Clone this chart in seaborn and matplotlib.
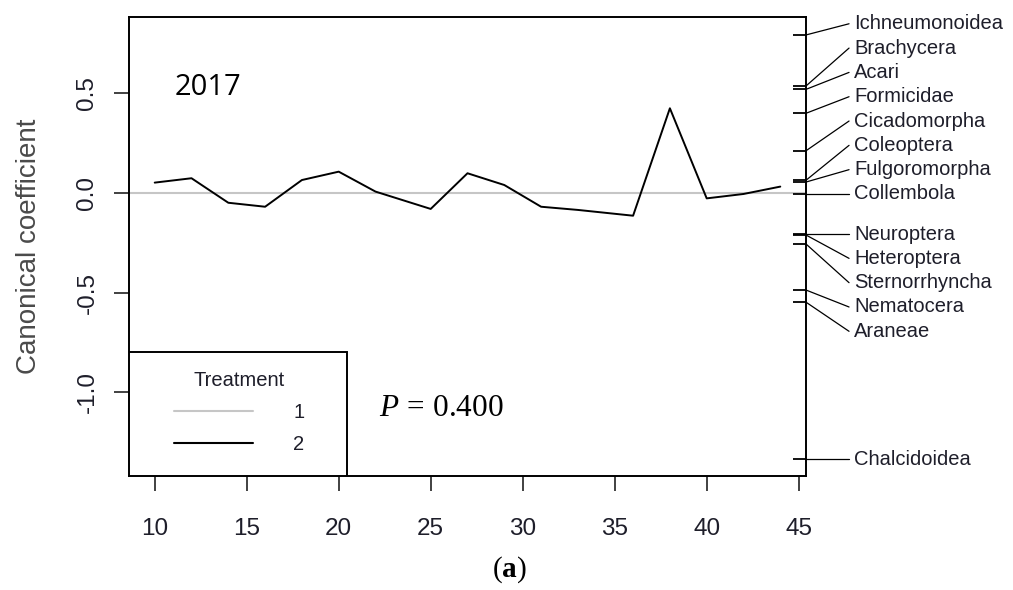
import numpy as np
import pandas as pd
import matplotlib
matplotlib.use('Agg')
import matplotlib.pyplot as plt
from matplotlib.patches import Rectangle
import seaborn as sns

# PRC: sampling week vs canonical coefficient of treatment 2 (treatment 1 = control, zero line)
weeks = [10, 12, 14, 16, 18, 20, 22, 25, 27, 29, 31, 33, 36, 38, 40, 42, 44]
coef = [0.052, 0.074, -0.049, -0.069, 0.065, 0.107, 0.007, -0.080, 0.099, 0.040,
        -0.069, -0.085, -0.114, 0.425, -0.027, -0.005, 0.032]

# species (taxon) weights shown on the right axis
taxa = ['Ichneumonoidea', 'Brachycera', 'Acari', 'Formicidae', 'Cicadomorpha',
        'Coleoptera', 'Fulgoromorpha', 'Collembola', 'Neuroptera', 'Heteroptera',
        'Sternorrhyncha', 'Nematocera', 'Araneae', 'Chalcidoidea']
taxa_scores = [0.793, 0.537, 0.520, 0.400, 0.212, 0.064, 0.055, -0.005,
               -0.206, -0.211, -0.256, -0.487, -0.548, -1.336]

treatments = ['1', '2']
x_ticks = [10, 15, 20, 25, 30, 35, 40, 45]
y_ticks = [-1.0, -0.5, 0.0, 0.5]
y_ticklabels = ['-1.0', '-0.5', '0.0', '0.5']


def linestack(vals, gap):
    # same idea as vegan::linestack - spread labels out from the middle one
    order = np.argsort(vals)
    x = np.asarray(vals, dtype=float)[order]
    n = len(x)
    pos = np.empty(n)
    mid = (n + 1) // 2 - 1
    pos[mid] = x[mid]
    for i in range(mid + 1, n):
        pos[i] = max(x[i], pos[i - 1] + gap)
    for i in range(mid - 1, -1, -1):
        pos[i] = min(x[i], pos[i + 1] - gap)
    out = np.empty(n)
    out[order] = pos
    return out


sns.set_style('ticks')
plt.rcParams['font.family'] = ['Liberation Sans', 'DejaVu Sans']
plt.rcParams['mathtext.fontset'] = 'custom'
plt.rcParams['mathtext.rm'] = 'Liberation Serif'
plt.rcParams['mathtext.it'] = 'Liberation Serif:italic'
plt.rcParams['mathtext.bf'] = 'Liberation Serif:bold'

txt_col = '#1e1e2a'

df = pd.DataFrame({'week': weeks, 'coef': coef})

fig = plt.figure(figsize=(10.13, 5.9), dpi=100)
ax = fig.add_axes([0.1273, 0.1932, 0.6684, 0.7780])

ax.axhline(0, color='#c6c6c6', lw=1.5, label=treatments[0], zorder=1)
sns.lineplot(data=df, x='week', y='coef', color='black', lw=1.4, ax=ax,
             label=treatments[1], zorder=2)

ax.set_xlim(8.6, 45.4)
ax.set_ylim(-1.42, 0.883)
ax.set_xticks(x_ticks)
ax.set_yticks(y_ticks)
ax.set_yticklabels(y_ticklabels)
ax.set_xlabel('')
ax.set_ylabel('Canonical coefficient', fontsize=20, color='#4a4a4a')
ax.yaxis.set_label_coords(-0.128, 0.5)

for s in ax.spines.values():
    s.set_visible(True)
    s.set_color('black')
    s.set_linewidth(1.4)
ax.tick_params(axis='both', direction='out', length=11, width=1.3, color='#333333',
               labelsize=17.5, labelcolor=txt_col)
ax.tick_params(axis='x', pad=19)
ax.tick_params(axis='y', pad=11, labelrotation=90)
for lab in ax.get_yticklabels():
    lab.set_va('center')

# taxon ticks inside the right axis plus connector lines to the stacked labels
tr = ax.get_yaxis_transform()
label_pos = linestack(taxa_scores, 0.122)
ax.hlines(taxa_scores, 0.981, 1.0, transform=tr, color='black', lw=1.3, clip_on=False)
for name, sc, lp in zip(taxa, taxa_scores, label_pos):
    ax.plot([1.0, 1.0635], [sc, lp], transform=tr, color='black', lw=0.9, clip_on=False)
    ax.text(1.071, lp, name, transform=tr, fontsize=14.5, color=txt_col,
            ha='left', va='center', clip_on=False)

# legend with a square box sitting in the lower-left corner
ax.add_patch(Rectangle((0, 0), 0.322, 0.271, transform=ax.transAxes, facecolor='white',
                       edgecolor='black', lw=1.4, zorder=3))
handles, labels = ax.get_legend_handles_labels()
leg = ax.legend(handles, labels, title='Treatment', loc='center',
                bbox_to_anchor=(0.163, 0.139), frameon=False, fontsize=14.5,
                title_fontsize=14.5, handlelength=3.9, handletextpad=2.0,
                labelspacing=0.65, borderpad=0)
leg.set_zorder(4)
for t in leg.get_texts():
    t.set_color(txt_col)
leg.get_title().set_color(txt_col)
for h in leg.get_lines():
    h.set_linewidth(1.5)

ax.text(0.068, 0.846, '2017', transform=ax.transAxes, fontsize=21,
        family=['Open Sans', 'DejaVu Sans'], color='black', ha='left', va='center')
ax.text(0.369, 0.148, r'$P\,=\,0.400$', transform=ax.transAxes, fontsize=22.5,
        color='black', ha='left', va='center', zorder=5)

fig.text(0.5025, 0.034, r'($\mathbf{a}$)', fontsize=21, family=['Liberation Serif'],
         color='black', ha='center', va='center')

fig.savefig('out.png', dpi=100)
